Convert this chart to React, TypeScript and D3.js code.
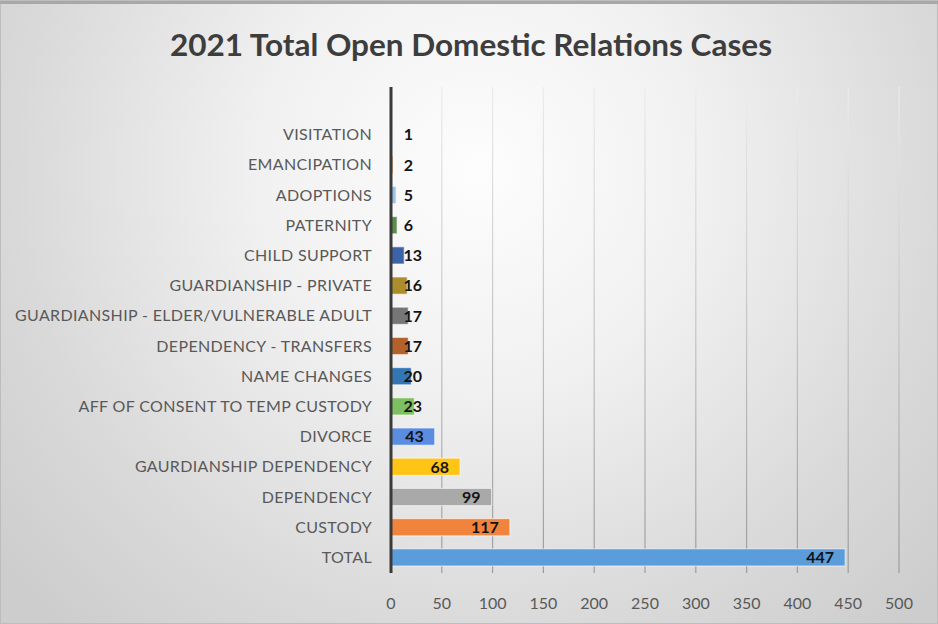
import React from 'react';
import * as d3 from 'd3';

const categories = [
  'VISITATION',
  'EMANCIPATION',
  'ADOPTIONS',
  'PATERNITY',
  'CHILD SUPPORT',
  'GUARDIANSHIP - PRIVATE',
  'GUARDIANSHIP - ELDER/VULNERABLE ADULT',
  'DEPENDENCY - TRANSFERS',
  'NAME CHANGES',
  'AFF OF CONSENT TO TEMP CUSTODY',
  'DIVORCE',
  'GAURDIANSHIP DEPENDENCY',
  'DEPENDENCY',
  'CUSTODY',
  'TOTAL',
];
const values = [1, 2, 5, 6, 13, 16, 17, 17, 20, 23, 43, 68, 99, 117, 447];
const barColors = [
  '#b7b7b7', '#f1975a', '#9cc3e6', '#5f8c4c', '#3c63a8', '#ad8c2c', '#767676',
  '#b4622c', '#3476b4', '#7cc062', '#5a8ce0', '#ffc414', '#a9a9a9', '#f0843c', '#5b9ddb',
];
const xTicks = [0, 50, 100, 150, 200, 250, 300, 350, 400, 450, 500];
const title = '2021 Total Open Domestic Relations Cases';

const W = 938;
const H = 624;

export default function App() {
  const x = d3.scaleLinear().domain([0, 500]).range([391, 899]);
  const y = d3.scaleBand().domain(categories).range([119.5, 572.5]).paddingInner(0.43).paddingOuter(0.215);
  const plotTop = 87;
  const plotBottom = 573;
  const font = 'Lato, "Open Sans", sans-serif';

  return (
    <svg width={W} height={H} style={{ position: 'absolute', left: 0, top: 0 }} fontFamily={font}>
      <defs>
        <radialGradient id="bg" cx="480" cy="170" r="620" gradientUnits="userSpaceOnUse">
          <stop offset="0" stopColor="#fdfdfd" />
          <stop offset="0.35" stopColor="#f1f1f1" />
          <stop offset="0.75" stopColor="#d9d9d9" />
          <stop offset="1" stopColor="#cdcdcd" />
        </radialGradient>
        <linearGradient id="grid" x1="0" y1={plotTop} x2="0" y2={plotBottom} gradientUnits="userSpaceOnUse">
          <stop offset="0" stopColor="#ececec" />
          <stop offset="1" stopColor="#9c9c9c" />
        </linearGradient>
      </defs>
      <rect x={0} y={0} width={W} height={H} fill="url(#bg)" />
      <rect x={0.5} y={0.5} width={W - 1} height={H - 1} fill="none" stroke="#bdbdbd" />
      <line x1={0} x2={W} y1={2.5} y2={2.5} stroke="#a8a8a8" strokeWidth={3} />

      <text x={471} y={56} textAnchor="middle" fontSize={30} fontWeight={700} fill="#3d3d3d"
        textLength={602} lengthAdjust="spacingAndGlyphs">{title}</text>

      {xTicks.slice(1).map((t) => (
        <line key={'g' + t} x1={x(t)} x2={x(t)} y1={plotTop} y2={plotBottom} stroke="url(#grid)" strokeWidth={1.2} />
      ))}

      {categories.map((c, i) => {
        const by = y(c) as number;
        const bw = x(values[i]) - x(0);
        return (
          <rect key={'b' + c} x={x(0)} y={by} width={bw} height={y.bandwidth()} fill={barColors[i]}
            stroke="#ffffff" strokeOpacity={0.55} strokeWidth={1.2} />
        );
      })}

      <line x1={x(0)} x2={x(0)} y1={plotTop} y2={plotBottom} stroke="#3a3a3a" strokeWidth={3} />

      {categories.map((c) => (
        <text key={'l' + c} x={372} y={(y(c) as number) + y.bandwidth() / 2} dy="0.35em" textAnchor="end"
          fontSize={16} letterSpacing={0.35} fill="#595959">{c}</text>
      ))}

      {categories.map((c, i) => {
        const label = String(values[i]);
        const w = label.length * 9;
        const end = Math.max(x(values[i]) - 11, 404 + w);
        return (
          <text key={'v' + c} x={end} y={(y(c) as number) + y.bandwidth() / 2} dy="0.36em" textAnchor="end"
            fontSize={16} fontWeight={700} fill="#141414">{label}</text>
        );
      })}

      {xTicks.map((t) => (
        <text key={'t' + t} x={x(t)} y={603} dy="0.35em" textAnchor="middle" fontSize={16} fill="#595959">{t}</text>
      ))}
    </svg>
  );
}
